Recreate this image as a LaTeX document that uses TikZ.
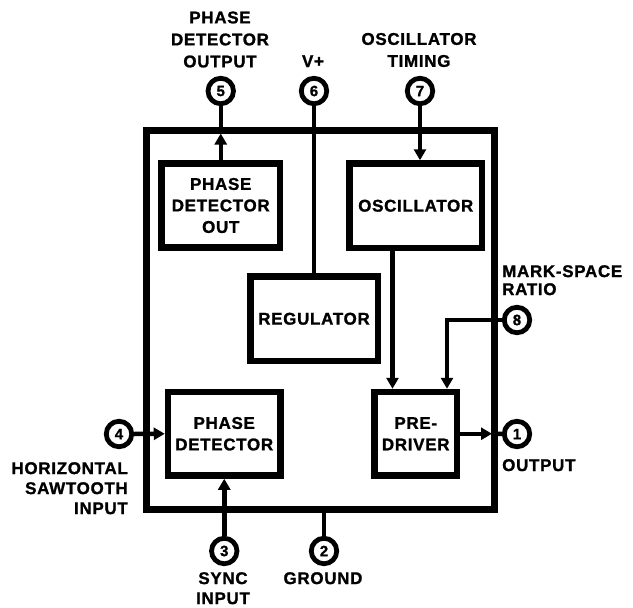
\documentclass[tikz,border=0pt]{standalone}
\usepackage{fontspec}
\setmainfont{Liberation Sans}[BoldFeatures={FakeBold=1.2,LetterSpace=4}]
\usetikzlibrary{arrows.meta}
\begin{document}
\begin{tikzpicture}[x=1pt,y=-1pt,
  lbl/.style={font=\fontsize{17}{22}\selectfont\bfseries, inner sep=0pt},
  blk/.style={draw, line width=6.5pt, inner sep=0pt, align=center, font=\fontsize{17}{21.5}\selectfont\bfseries},
  pinc/.style={draw, circle, line width=4.8pt, minimum size=25.5pt, inner sep=0pt, font=\fontsize{15}{15}\selectfont\bfseries},
  conn/.style={line width=4.5pt},
  tip/.style={-{Triangle[length=11pt,width=12pt]}}]
\useasboundingbox (0,0) rectangle (633,608);
\fill[white] (0,0) rectangle (633,608);
% outer package
\node[draw, line width=7pt, minimum width=347.5pt, minimum height=379pt, inner sep=0pt] (ic) at (320.25,319.5) {};
% blocks
\node[blk, minimum width=118.5pt, minimum height=84pt] (pdo) at (220.75,205.5) {PHASE\\DETECTOR\\OUT};
\node[blk, minimum width=132.5pt, minimum height=84.5pt] (osc) at (415.75,205.75) {OSCILLATOR};
\node[blk, minimum width=127.5pt, minimum height=84.5pt] (reg) at (314,318.75) {REGULATOR};
\node[blk, minimum width=112.5pt, minimum height=83.5pt] (pd) at (224.25,433.75) {PHASE\\DETECTOR};
\node[blk, minimum width=82.5pt, minimum height=83.5pt] (pre) at (415.75,433.75) {PRE-\\DRIVER};
% pins
\node[pinc] (p5) at (220.75,91) {5};
\node[pinc] (p6) at (314,91) {6};
\node[pinc] (p7) at (420,91) {7};
\node[pinc] (p8) at (517,320) {8};
\node[pinc] (p1) at (517,434) {1};
\node[pinc] (p4) at (119,434) {4};
\node[pinc] (p3) at (224.25,551) {3};
\node[pinc] (p2) at (324,551) {2};
% pin labels
\node[lbl, align=center] (l5) at (220,39.5) {PHASE\\DETECTOR\\OUTPUT};
\node[lbl, anchor=base] (l6) at (313,67) {V+};
\node[lbl, align=center] (l7) at (419,50) {OSCILLATOR\\TIMING};
\node[lbl, align=left, anchor=north west, font=\fontsize{17}{18}\selectfont\bfseries] (l8) at (502,265) {MARK-SPACE\\RATIO};
\node[lbl, anchor=base west] (l1) at (502,471) {OUTPUT};
\node[lbl, align=right, anchor=north east, font=\fontsize{17}{20}\selectfont\bfseries] (l4) at (128,462) {HORIZONTAL\\SAWTOOTH\\INPUT};
\node[lbl, align=center, anchor=north, font=\fontsize{17}{20}\selectfont\bfseries] (l3) at (223,572) {SYNC\\INPUT};
\node[lbl, anchor=north] (l2) at (323,572) {GROUND};
% connectors
\coordinate (b5) at (220.75,133.5);
\draw[conn, tip] (pdo.north) -- (b5);
\draw[conn] (b5) -- (p5.south);
\draw[conn] (p6.south) -- (reg.north);
\draw[conn, tip] (p7.south) -- (p7.south |- osc.north);
\coordinate (c1) at (392.5,0);
\draw[conn, tip] (c1 |- osc.south) -- (c1 |- pre.north);
\coordinate (c2) at (447,0);
\draw[conn, tip] (p8.west) -| (c2 |- pre.north);
\draw[conn, tip] (p4.east) -- (pd.west);
\coordinate (b1) at (492,433.75);
\draw[conn, tip] (pre.east) -- (b1);
\draw[conn] (b1) -- (p1.west);
\draw[conn, tip] (p3.north) -- (pd.south);
\draw[conn] (p2.north) -- (p2.north |- ic.south);
\end{tikzpicture}
\end{document}
